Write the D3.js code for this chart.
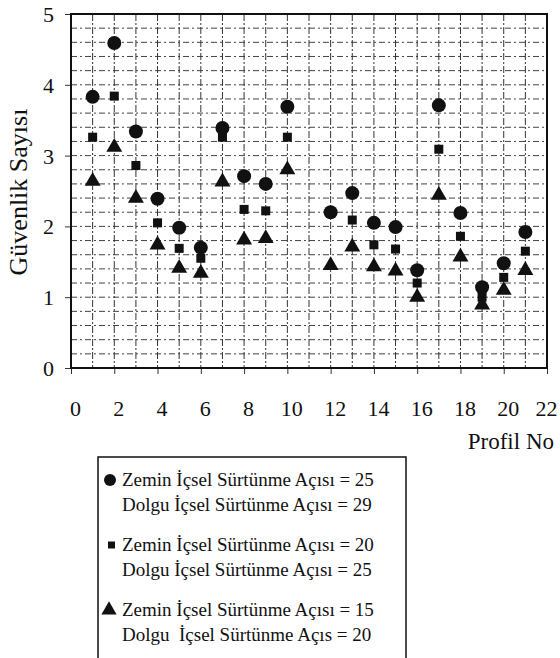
<!DOCTYPE html>
<html><head><meta charset="utf-8">
<script src="https://cdn.jsdelivr.net/npm/d3@7"></script>
<style>body{margin:0;background:#fff}svg{display:block}</style>
</head><body><svg id="c" width="560" height="658" font-family="Liberation Serif"></svg>
<script>
const profiles = [1,2,3,4,5,6,7,8,9,10,12,13,14,15,16,17,18,19,20,21];
const circleValues   = [3.83,4.59,3.34,2.39,1.98,1.70,3.39,2.71,2.60,3.69,2.20,2.47,2.05,1.99,1.38,3.71,2.19,1.14,1.48,1.92];
const squareValues   = [3.26,3.84,2.86,2.05,1.69,1.55,3.26,2.24,2.22,3.26,null,2.09,1.74,1.68,1.20,3.09,1.86,1.00,1.28,1.65];
const triangleValues = [2.64,3.12,2.40,1.74,1.41,1.34,2.63,1.81,1.83,2.80,1.45,1.71,1.43,1.37,1.00,2.44,1.57,0.89,1.10,1.38];
const xTicks = [0,2,4,6,8,10,12,14,16,18,20,22];
const yTicks = [0,1,2,3,4,5];
const legendLines = [
  ["circle","Zemin İçsel Sürtünme Açısı = 25","Dolgu İçsel Sürtünme Açısı = 29"],
  ["square","Zemin İçsel Sürtünme Açısı = 20","Dolgu İçsel Sürtünme Açısı = 25"],
  ["triangle","Zemin İçsel Sürtünme Açısı = 15","Dolgu  İçsel Sürtünme Açıs = 20"]
];

const FONT = "Liberation Serif";
const svg = d3.select("#c");
const L=71, R=547, T=14, B=368;
const x = d3.scaleLinear().domain([0,22]).range([L,R]);
const y = d3.scaleLinear().domain([0,5]).range([B,T]);

// grid
const g = svg.append("g");
g.selectAll("line.h").data(d3.range(1,25).map(i=>i*0.2)).join("line")
  .attr("x1",L).attr("x2",R).attr("y1",d=>y(d)).attr("y2",d=>y(d))
  .attr("stroke","#444").attr("stroke-width",1).attr("stroke-dasharray","6,3,2,3");
g.selectAll("line.v").data(d3.range(1,22)).join("line")
  .attr("y1",T).attr("y2",B).attr("x1",d=>x(d)).attr("x2",d=>x(d))
  .attr("stroke","#333").attr("stroke-width",1).attr("stroke-dasharray","7,2,2,2");

// axes
const xAxis = d3.axisBottom(x).tickValues(xTicks).tickSize(6).tickFormat(d=>d);
const xa = svg.append("g").attr("transform",`translate(0,${B})`).call(xAxis);
xa.attr("font-family",FONT).attr("font-size",22);
xa.select(".domain").remove();
xa.selectAll("line").attr("stroke","#333");
xa.selectAll("text").attr("dy",0).attr("y",48).attr("dx",d=>d===22?-1:4).attr("fill","#111");

const yAxis = d3.axisLeft(y).tickValues(yTicks).tickSize(6).tickFormat(d=>d);
const ya = svg.append("g").attr("transform",`translate(${L},0)`).call(yAxis);
ya.attr("font-family",FONT).attr("font-size",22);
ya.select(".domain").remove();
ya.selectAll("line").attr("stroke","#333");
ya.selectAll("text").attr("x",-17).attr("dy","0.34em").attr("text-anchor","end").attr("fill","#111");

// frame
svg.append("rect").attr("x",L).attr("y",T).attr("width",R-L).attr("height",B-T)
  .attr("fill","none").attr("stroke","#111").attr("stroke-width",2);

// titles
svg.append("text").attr("transform","translate(27,192) rotate(-90)").attr("text-anchor","middle")
  .attr("font-size",26).attr("font-family",FONT).attr("fill","#111").text("Güvenlik Sayısı");
svg.append("text").attr("x",554).attr("y",449).attr("text-anchor","end")
  .attr("font-size",23).attr("font-family",FONT).attr("fill","#111").text("Profil No");

// markers
const pts = svg.append("g");
const circ = profiles.map((p,i)=>({p,v:circleValues[i]})).filter(d=>d.v!=null);
const sq = profiles.map((p,i)=>({p,v:squareValues[i]})).filter(d=>d.v!=null);
const tri = profiles.map((p,i)=>({p,v:triangleValues[i]})).filter(d=>d.v!=null);
const triSym = d3.symbol().type(d3.symbolTriangle).size(110);
pts.selectAll("path.t").data(tri).join("path")
  .attr("transform",d=>`translate(${x(d.p)},${y(d.v)})`).attr("d",triSym).attr("fill","#111");
pts.selectAll("rect.s").data(sq).join("rect")
  .attr("x",d=>x(d.p)-4.5).attr("y",d=>y(d.v)-4.5).attr("width",9).attr("height",9).attr("fill","#111");
pts.selectAll("circle").data(circ).join("circle")
  .attr("cx",d=>x(d.p)).attr("cy",d=>y(d.v)).attr("r",7).attr("fill","#111");

// legend
const lg = svg.append("g");
lg.append("rect").attr("x",98).attr("y",457).attr("width",308).attr("height",215)
  .attr("fill","none").attr("stroke","#111").attr("stroke-width",1.5);
const baseY=[486,551,616];
legendLines.forEach((row,i)=>{
  const cy = baseY[i]-6;
  if(row[0]==="circle") lg.append("circle").attr("cx",110).attr("cy",cy).attr("r",6).attr("fill","#111");
  if(row[0]==="square") lg.append("rect").attr("x",108).attr("y",cy-3.5).attr("width",7).attr("height",7).attr("fill","#111");
  if(row[0]==="triangle") lg.append("path").attr("transform",`translate(109,${cy})`).attr("d",d3.symbol().type(d3.symbolTriangle).size(100)).attr("fill","#111");
  [row[1],row[2]].forEach((t,k)=>{
    lg.append("text").attr("x",122).attr("y",baseY[i]+25*k).attr("xml:space","preserve")
      .attr("font-size",19).attr("font-family",FONT).style("white-space","pre").attr("fill","#111").text(t);
  });
});
</script></body></html>
